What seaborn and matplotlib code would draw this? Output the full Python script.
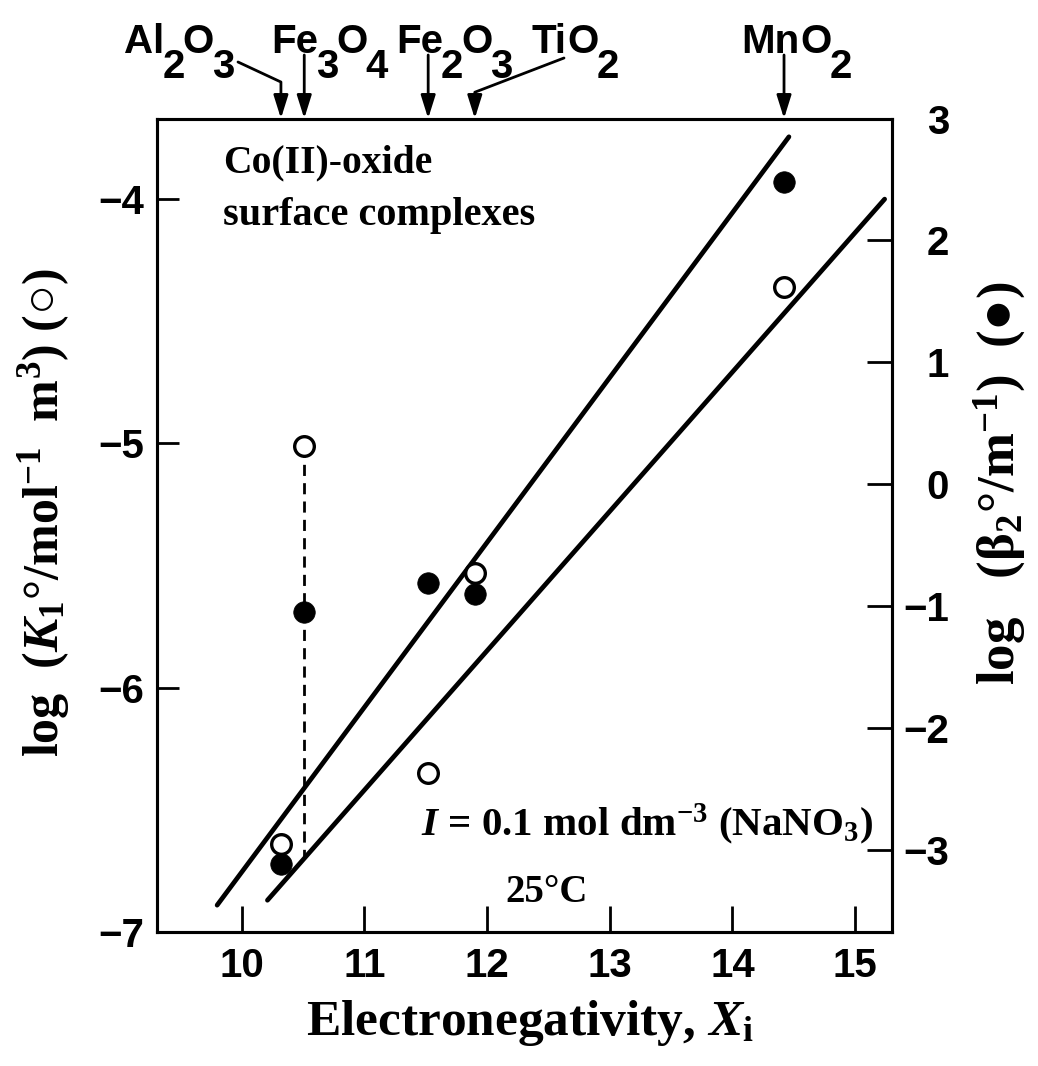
import matplotlib
matplotlib.use("Agg")
import matplotlib.pyplot as plt
import seaborn as sns
import pandas as pd

# ---------------- data ----------------
oxides = ["Al2O3", "Fe3O4", "Fe2O3", "TiO2", "MnO2"]
xi = [10.32, 10.51, 11.52, 11.90, 14.42]              # electronegativity
log_k1 = [-6.64, -5.01, -6.35, -5.53, -4.36]          # open circles (left axis)
log_beta2 = [-3.11, -1.05, -0.81, -0.90, 2.48]        # filled circles (right axis)

fit_k1_x = [10.21, 15.24]
fit_k1_y = [-6.87, -4.00]
fit_beta2_x = [9.80, 14.46]
fit_beta2_y = [-3.45, 2.85]

dash_x = [10.51, 10.51]
dash_y = [-5.01, -6.70]

x_ticks = [10, 11, 12, 13, 14, 15]
left_ticks = [-7, -6, -5, -4]
right_ticks = [-3, -2, -1, 0, 1, 2, 3]

# chemical formula pieces: (text, is_subscript)
oxide_pieces = [
    [("Al", 0), ("2", 1), ("O", 0), ("3", 1)],
    [("Fe", 0), ("3", 1), ("O", 0), ("4", 1)],
    [("Fe", 0), ("2", 1), ("O", 0), ("3", 1)],
    [("Ti", 0), ("O", 0), ("2", 1)],
    [("Mn", 0), ("O", 0), ("2", 1)],
]

# ---------------- layout (figure pixels, origin bottom-left) ----------------
W, H = 1038, 1066
label_start_x = [124, 271, 396, 531, 741]
label_baseline = H - 53
arrow_start = [(238, H - 62, -25), (None, H - 55, None), (None, H - 55, None),
               (564, H - 58, 21), (None, H - 55, None)]

sns.set_theme(style="white")
plt.rcParams["font.family"] = ["Liberation Serif", "DejaVu Serif", "DejaVu Sans"]
plt.rcParams["font.weight"] = "bold"
plt.rcParams["text.color"] = "black"
plt.rcParams["xtick.color"] = "black"
plt.rcParams["ytick.color"] = "black"
plt.rcParams["xtick.labelcolor"] = "black"
plt.rcParams["ytick.labelcolor"] = "black"
plt.rcParams["mathtext.fontset"] = "custom"
plt.rcParams["mathtext.rm"] = "Liberation Serif:bold"
plt.rcParams["mathtext.bf"] = "Liberation Serif:bold"
plt.rcParams["mathtext.it"] = "Liberation Serif:italic:bold"
plt.rcParams["axes.linewidth"] = 2.2
plt.rcParams["axes.edgecolor"] = "black"

SANS = "Liberation Sans"

fig = plt.figure(figsize=(W / 100, H / 100), dpi=100)
fig.patch.set_facecolor("white")
ax = fig.add_axes([157 / W, (H - 932) / H, (892 - 157) / W, (932 - 118.5) / H])
ax2 = ax.twinx()

df_open = pd.DataFrame({"x": xi, "y": log_k1})
df_fill = pd.DataFrame({"x": xi, "y": log_beta2})

# right axis (filled circles, beta2)
sns.lineplot(x=fit_beta2_x, y=fit_beta2_y, ax=ax2, color="black", lw=3.4,
             estimator=None, sort=False, solid_capstyle="round")
sns.scatterplot(data=df_fill, x="x", y="y", ax=ax2, color="black", s=240,
                edgecolor="black", linewidth=0.5, zorder=5)

# left axis (open circles, K1)
sns.lineplot(x=fit_k1_x, y=fit_k1_y, ax=ax, color="black", lw=3.4,
             estimator=None, sort=False, solid_capstyle="round")
sns.lineplot(x=dash_x, y=dash_y, ax=ax, color="black", lw=2.0,
             estimator=None, sort=False, linestyle=(0, (4, 2.6)))
sns.scatterplot(data=df_open, x="x", y="y", ax=ax, color="white", s=200,
                edgecolor="black", linewidth=2.4, zorder=5)

ax.set_zorder(ax2.get_zorder() + 1)
ax.patch.set_visible(False)

ax.set_xlim(9.31, 15.30)
ax.set_ylim(-7.0, -3.67)
ax2.set_ylim(-3.67, 3.0)
ax.set_xticks(x_ticks)
ax.set_yticks(left_ticks)
ax2.set_yticks(right_ticks)
ax.set_xlabel("")
ax.set_ylabel("")
ax2.set_ylabel("")

ax.tick_params(axis="x", direction="in", length=18.5, width=2.0, pad=11,
               labelsize=29, labelfontfamily=SANS, top=False, bottom=True)
ax.tick_params(axis="y", direction="in", length=16, width=2.0, pad=9,
               labelsize=29, labelfontfamily=SANS, left=True, right=False)
ax2.tick_params(axis="y", direction="in", length=18, width=2.0, pad=41,
                labelsize=29, labelfontfamily=SANS, left=False, right=True)
for lab in ax2.get_yticklabels():
    lab.set_horizontalalignment("right")
for sp in list(ax.spines.values()) + list(ax2.spines.values()):
    sp.set_linewidth(2.2)
    sp.set_color("black")

# ---------------- texts ----------------
def fp(x, y):
    return x / W, y / H

fig.text(*fp(223, H - 172), "Co(II)-oxide", fontsize=28.5, fontweight="bold",
         ha="left", va="baseline")
fig.text(*fp(223, H - 225), "surface complexes", fontsize=29, fontweight="bold",
         ha="left", va="baseline")
fig.text(*fp(421, H - 836), r"$I$ = 0.1 mol dm$^{-3}$ (NaNO$_3$)", fontsize=29.5,
         fontweight="bold", ha="left", va="baseline")
fig.text(*fp(505, H - 902), "25°C", fontsize=28, fontweight="bold",
         ha="left", va="baseline")
fig.text(*fp(530, H - 1035), r"Electronegativity, $X_\mathrm{i}$", fontsize=37,
         fontweight="bold", ha="center", va="baseline")
fig.text(*fp(44, H - 512), r"log  ($K_1$°/mol$^{-1}$  m$^3$) (○)", fontsize=36,
         fontweight="bold", rotation=90, ha="center", va="center")
fig.text(*fp(1000, H - 483), r"log   ($\mathrm{\beta}_2$°/m$^{-1}$)  (●)", fontsize=38,
         fontweight="bold", rotation=90, ha="center", va="center")

# oxide labels with arrows to the top axis
drop = 18
for pieces, x0 in zip(oxide_pieces, label_start_x):
    prev = ax.annotate(pieces[0][0], xy=(x0, label_baseline), xycoords="figure pixels",
                       ha="left", va="baseline", fontsize=29, fontweight="bold",
                       fontfamily=SANS, annotation_clip=False)
    prev_sub = pieces[0][1]
    for txt, sub in pieces[1:]:
        dy, dx = 0, 1
        if sub and not prev_sub:
            dy, dx = -drop, -1.5
        elif prev_sub and not sub:
            dy, dx = drop, -1.5
        prev = ax.annotate(txt, xy=(1, 0), xycoords=prev, xytext=(dx, dy),
                           textcoords="offset points", ha="left", va="bottom",
                           fontsize=29, fontweight="bold", fontfamily=SANS,
                           annotation_clip=False)
        prev_sub = sub

for x, (sx, sy, ang) in zip(xi, arrow_start):
    props = dict(arrowstyle="-|>,head_length=0.7,head_width=0.22", color="black",
                 lw=2.0, shrinkA=0, shrinkB=0, mutation_scale=20)
    if sx is None:
        ax.annotate("", xy=(x, 1.0), xycoords=("data", "axes fraction"),
                    xytext=(x, sy), textcoords=("data", "figure pixels"),
                    arrowprops=props, annotation_clip=False)
    else:
        props["connectionstyle"] = f"angle,angleA={ang},angleB=90,rad=0"
        ax.annotate("", xy=(x, 1.0), xycoords=("data", "axes fraction"),
                    xytext=(sx, sy), textcoords="figure pixels",
                    arrowprops=props, annotation_clip=False)

fig.savefig("out.png", dpi=100, facecolor="white")
